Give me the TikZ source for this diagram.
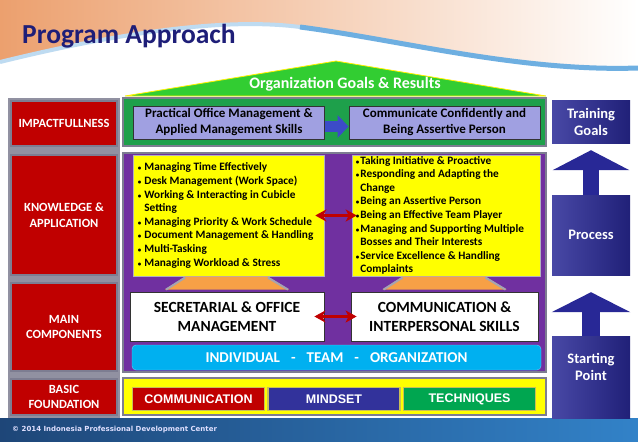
\documentclass[tikz,border=0pt]{standalone}
\usepackage{fontspec}
\setmainfont{Carlito}
\newfontfamily\arialfont{Liberation Sans}
\newfontfamily\footerfont{DejaVu Sans}
\usetikzlibrary{positioning,calc,arrows.meta}
\definecolor{IPDC_red}{RGB}{192,0,0}
\definecolor{IPDC_navy}{RGB}{40,40,150}
\definecolor{IPDC_title}{RGB}{30,30,120}
\definecolor{IPDC_green}{RGB}{30,160,75}
\definecolor{IPDC_roof}{RGB}{50,205,50}
\definecolor{IPDC_lavender}{RGB}{160,160,225}
\definecolor{IPDC_purple}{RGB}{112,48,160}
\definecolor{IPDC_yellow}{RGB}{255,255,0}
\definecolor{IPDC_orange}{RGB}{247,160,70}
\definecolor{IPDC_cyan}{RGB}{0,176,240}
\definecolor{IPDC_mindset}{RGB}{50,50,155}
\definecolor{IPDC_tech}{RGB}{0,166,80}
\definecolor{IPDC_gray}{RGB}{125,125,145}
\definecolor{IPDC_arrow}{RGB}{60,75,200}
\definecolor{IPDC_peach}{RGB}{236,160,110}
\definecolor{IPDC_sky}{RGB}{110,175,225}
\definecolor{IPDC_footL}{RGB}{30,70,120}
\definecolor{IPDC_footR}{RGB}{50,130,200}
\definecolor{IPDC_glow}{RGB}{200,190,90}
\newcommand{\itembul}[1]{\makebox[#1][l]{\fontsize{7}{7}\selectfont\textbullet}}

\begin{document}
\begin{tikzpicture}[x=1pt,y=-1pt,
    rowlabel/.style={fill=IPDC_red, draw=IPDC_gray, line width=2pt, text=white,
      font=\bfseries\fontsize{12.5}{15.5}\selectfont, align=center,
      minimum width=106pt, inner sep=1pt},
    panel/.style={draw=IPDC_gray, line width=2.5pt, minimum width=423pt, inner sep=0pt},
    goalbox/.style={fill=IPDC_lavender, draw=black!80, line width=0.8pt, minimum width=191pt,
      minimum height=33pt, align=center, font=\bfseries\fontsize{13}{16}\selectfont, inner sep=0pt},
    listbox/.style={fill=IPDC_yellow, draw=IPDC_gray!60, line width=0.6pt, minimum height=121pt, inner sep=0pt},
    listtext/.style={anchor=west, align=left, inner sep=0pt, font=\bfseries\fontsize{11.3}{13.6}\selectfont},
    compbox/.style={fill=white, draw=black!80, line width=0.8pt, minimum height=49pt, align=center,
      font=\bfseries\fontsize{15.5}{19}\selectfont, inner sep=0pt},
    basebox/.style={draw=IPDC_glow, line width=1.5pt, minimum width=132pt, minimum height=23pt, text=white,
      font=\arialfont\bfseries\fontsize{12.5}{14}\selectfont, inner sep=0pt},
    navybox/.style={left color=IPDC_navy!85!white, right color=IPDC_navy!80!black, minimum width=78pt,
      align=center, text=white, font=\bfseries\fontsize{14.5}{17}\selectfont, inner sep=0pt},
    linkarrow/.style={IPDC_red, line width=3pt,
      {Stealth[length=11pt,width=12pt,inset=3pt]}-{Stealth[length=11pt,width=12pt,inset=3pt]}}
  ]
  % Background
  \fill[white] (0,0) rectangle (638,442);
  \useasboundingbox (0,0) rectangle (638,442);
  \shade[left color=IPDC_peach, middle color=IPDC_peach!35!white, right color=white]
    (0,0) -- (0,62) .. controls (130,30) and (230,18) .. (300,27)
    .. controls (400,40) and (520,72) .. (638,68) -- (638,0) -- cycle;
  \draw[IPDC_sky!45!white, line width=4pt] (0,62) .. controls (130,30) and (230,18) .. (300,27);
  \draw[IPDC_sky, line width=5pt] (300,27) .. controls (400,40) and (520,72) .. (638,68);
  \shade[left color=IPDC_footL, right color=IPDC_footR] (0,418) rectangle (638,442);
  \node[anchor=west, inner sep=0pt, text=white!88!blue, font=\footerfont\bfseries\fontsize{7}{8}\selectfont]
    (footer) at (12,430) {© 2014 Indonesia Professional Development Center};
  % Title
  \node[anchor=base west, inner sep=0pt, text=IPDC_title, font=\bfseries\fontsize{27.5}{30}\selectfont]
    (title) at (22,43) {Program Approach};
  % Left column
  \fill[IPDC_gray!85] (8,98) rectangle (120,418);
  \node[rowlabel, minimum height=45pt] (impact) at (64,123.5) {IMPACTFULLNESS};
  \node[rowlabel, minimum height=120pt] (know) at (64,215) {KNOWLEDGE \&\\APPLICATION};
  \node[rowlabel, minimum height=88pt] (main) at (64,327) {MAIN\\COMPONENTS};
  \node[rowlabel, minimum height=36pt] (basic) at (64,397) {BASIC\\FOUNDATION};
  % Roof
  \coordinate (roofL) at (125,96);
  \coordinate (roofT) at (336,61);
  \coordinate (roofR) at (546,96);
  \filldraw[fill=IPDC_roof, draw=yellow, line width=0.8pt] (roofL) -- (roofT) -- (roofR) -- cycle;
  \node[text=white, font=\bfseries\fontsize{16}{18}\selectfont] (roofText) at (345,84) {Organization Goals \& Results};
  % Impact row
  \node[panel, fill=IPDC_green, minimum height=48pt] (impactPanel) at (334.5,122) {};
  \node[goalbox] (office) at (229,122.5) {Practical Office Management \&\\Applied Management Skills};
  \node[goalbox] (assert) at (444.5,122.5) {Communicate Confidently and\\Being Assertive Person};
  \draw[IPDC_arrow, line width=11pt, -{Triangle[length=11pt,width=22pt]}]
    ($(office.east)+(0,4)$) -- ($(assert.west)+(0,4)$);
  % Knowledge and components
  \node[panel, fill=IPDC_purple, minimum height=219pt] (corePanel) at (334.5,262.5) {};
  \node[listbox, minimum width=191pt] (skillsL) at (228.5,215.5) {};
  \node[listbox, minimum width=188pt] (skillsR) at (446,215.5) {};
  \node[listtext] (skillsLText) at ($(skillsL.west)+(5,0)$) {%
    \itembul{6.5pt}Managing Time Effectively\\
    \itembul{6.5pt}Desk Management (Work Space)\\
    \itembul{6.5pt}Working \& Interacting in Cubicle\\
    \hspace*{6.5pt}Setting\\
    \itembul{6.5pt}Managing Priority \& Work Schedule\\
    \itembul{6.5pt}Document Management \& Handling\\
    \itembul{6.5pt}Multi-Tasking\\
    \itembul{6.5pt}Managing Workload \& Stress};
  \node[listtext] (skillsRText) at ($(skillsR.west)+(4,0)$) {%
    \itembul{4.5pt}Taking Initiative \& Proactive\\
    \itembul{4.5pt}Responding and Adapting the\\
    \hspace*{4.5pt}Change\\
    \itembul{4.5pt}Being an Assertive Person\\
    \itembul{4.5pt}Being an Effective Team Player\\
    \itembul{4.5pt}Managing and Supporting Multiple\\
    \hspace*{4.5pt}Bosses and Their Interests\\
    \itembul{4.5pt}Service Excellence \& Handling\\
    \hspace*{4.5pt}Complaints};
  \draw[linkarrow, shorten <=-9pt, shorten >=-5pt] (skillsL.east) -- (skillsR.west);
  \node[compbox, minimum width=194pt] (secretary) at (227,316.5) {SECRETARIAL \& OFFICE\\MANAGEMENT};
  \node[compbox, minimum width=187pt] (interpersonal) at (444.5,316.5) {COMMUNICATION \&\\INTERPERSONAL SKILLS};
  \draw[linkarrow, shorten <=-10pt, shorten >=-6pt] (secretary.east) -- (interpersonal.west);
  \foreach \comp in {secretary,interpersonal}{
    \fill[IPDC_orange] ($(\comp.north)+(-62,-2)$) -- ($(\comp.north)+(-42,-15)$)
      -- ($(\comp.north)+(41,-15)$) -- ($(\comp.north)+(62,-2)$) -- cycle;
    \draw[IPDC_gray!70, line width=2pt] ($(\comp.north)+(-61,-2)$) -- ($(\comp.north)+(-42,-14)$);
    \draw[IPDC_gray!70, line width=2pt] ($(\comp.north)+(61,-2)$) -- ($(\comp.north)+(41,-14)$);
  }
  \node[fill=IPDC_cyan, draw=IPDC_cyan!60!white, rounded corners=4pt, minimum width=409pt, minimum height=25pt,
    inner sep=0pt, text=white, font=\bfseries\fontsize{15}{16}\selectfont] (levels) at (336.5,357.5)
    {INDIVIDUAL\hspace{11pt}-\hspace{11pt}TEAM\hspace{11pt}-\hspace{11pt}ORGANIZATION};
  % Basic foundation
  \node[panel, fill=IPDC_yellow, minimum height=37pt] (basePanel) at (334.5,396.5) {};
  \node[basebox, fill=IPDC_red] (comm) at (198.5,399) {COMMUNICATION};
  \node[basebox, fill=IPDC_mindset, right=2pt of comm] (mindset) {MINDSET};
  \node[basebox, fill=IPDC_tech, right=2pt of mindset] (tech) {TECHNIQUES};
  % Right column
  \node[navybox, minimum height=43pt] (train) at (591,121.5) {Training\\Goals};
  \node[navybox, minimum height=80pt] (proc) at (591,235) {Process};
  \node[navybox, minimum height=82pt,
    label={[text=white, font=\bfseries\fontsize{14.5}{17}\selectfont, align=center, yshift=10pt]center:{Starting\\Point}}]
    (start) at (591,377) {};
  \draw[IPDC_navy, line width=16pt, -{Triangle[length=20pt,width=76pt]}, shorten >=7pt] (proc.north) -- (train.south);
  \draw[IPDC_navy, line width=18pt, -{Triangle[length=20pt,width=78pt]}, shorten >=17pt] (start.north) -- (proc.south);
\end{tikzpicture}
\end{document}
